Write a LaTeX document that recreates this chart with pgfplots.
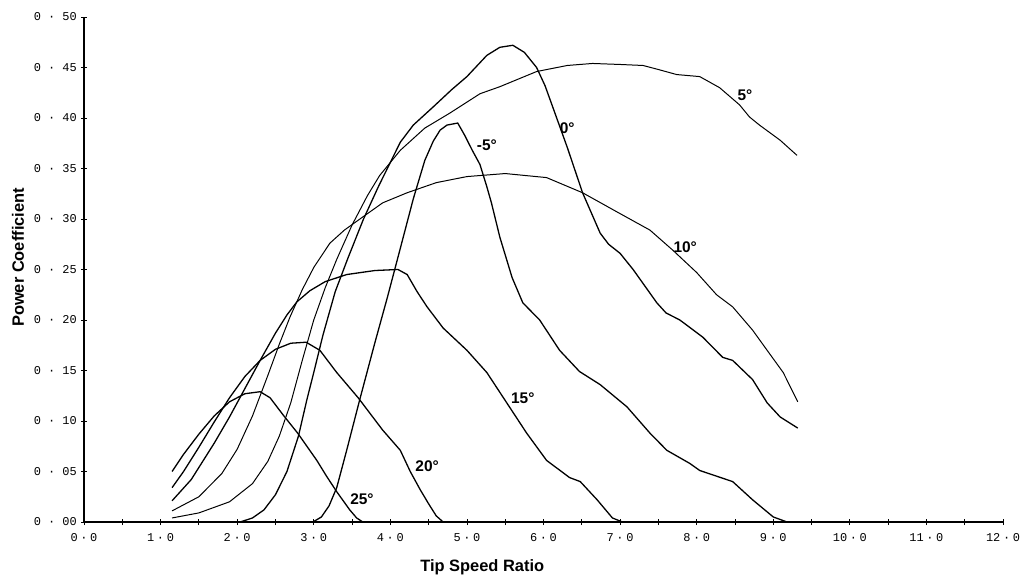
\documentclass[border=0pt]{standalone}
\usepackage{pgfplots}
\pgfplotsset{compat=1.18}
\usepackage{fontspec}
\setmainfont{Liberation Sans}
\setmonofont{Liberation Mono}

\pgfplotstableread{
x y
1.15 0.050
1.3 0.067
1.5 0.087
1.7 0.105
1.9 0.119
2.1 0.127
2.3 0.129
2.43 0.123
2.6 0.106
2.79 0.088
3.04 0.061
3.17 0.045
3.30 0.030
3.47 0.012
3.56 0.004
3.64 0.0
}\tabA
\pgfplotstableread{
x y
1.15 0.034
1.3 0.050
1.5 0.074
1.7 0.099
1.9 0.123
2.1 0.144
2.3 0.160
2.5 0.171
2.7 0.177
2.9 0.178
3.08 0.170
3.3 0.148
3.58 0.123
3.75 0.106
3.9 0.091
4.13 0.071
4.26 0.050
4.39 0.032
4.50 0.018
4.60 0.006
4.69 0.0
}\tabB
\pgfplotstableread{
x y
1.15 0.021
1.4 0.042
1.7 0.078
1.9 0.104
2.1 0.132
2.3 0.160
2.5 0.187
2.65 0.205
2.78 0.218
2.95 0.229
3.15 0.238
3.43 0.245
3.8 0.249
4.1 0.250
4.22 0.245
4.35 0.228
4.48 0.213
4.69 0.192
5.0 0.170
5.26 0.148
5.52 0.118
5.78 0.088
6.04 0.061
6.34 0.044
6.48 0.040
6.7 0.022
6.9 0.004
7.03 0.0
}\tabC
\pgfplotstableread{
x y
1.15 0.011
1.5 0.025
1.8 0.048
2.0 0.072
2.2 0.105
2.4 0.145
2.55 0.176
2.69 0.203
2.85 0.230
3.0 0.252
3.21 0.276
3.4 0.289
3.64 0.302
3.9 0.316
4.22 0.326
4.6 0.336
5.0 0.342
5.5 0.345
6.04 0.341
6.51 0.326
6.96 0.307
7.39 0.289
7.69 0.269
8.0 0.247
8.26 0.225
8.47 0.213
8.73 0.190
8.92 0.170
9.13 0.148
9.32 0.119
}\tabD
\pgfplotstableread{
x y
1.15 0.004
1.5 0.009
1.9 0.020
2.2 0.038
2.4 0.060
2.55 0.085
2.7 0.118
2.85 0.160
3.0 0.200
3.15 0.232
3.3 0.260
3.5 0.294
3.7 0.323
3.86 0.343
4.13 0.368
4.45 0.390
4.78 0.405
5.17 0.424
5.43 0.431
5.91 0.446
6.31 0.452
6.64 0.454
7.0 0.453
7.30 0.452
7.50 0.448
7.74 0.443
8.04 0.441
8.30 0.430
8.56 0.413
8.69 0.401
8.82 0.393
9.09 0.378
9.31 0.363
}\tabE
\pgfplotstableread{
x y
2.04 0.0
2.2 0.004
2.35 0.012
2.5 0.027
2.65 0.050
2.8 0.085
2.91 0.121
3.0 0.148
3.12 0.185
3.28 0.228
3.45 0.262
3.65 0.300
3.85 0.333
4.0 0.356
4.13 0.376
4.3 0.393
4.56 0.411
4.8 0.428
5.0 0.441
5.26 0.462
5.43 0.470
5.6 0.472
5.75 0.465
5.91 0.450
6.02 0.432
6.12 0.411
6.31 0.371
6.51 0.326
6.74 0.286
6.85 0.275
7.0 0.266
7.17 0.250
7.48 0.217
7.6 0.207
7.78 0.200
8.08 0.183
8.34 0.163
8.47 0.160
8.73 0.141
8.92 0.118
9.09 0.104
9.32 0.093
}\tabF
\pgfplotstableread{
x y
2.99 0.0
3.1 0.005
3.2 0.016
3.3 0.034
3.43 0.071
3.6 0.121
3.8 0.178
3.96 0.222
4.12 0.268
4.3 0.320
4.45 0.358
4.56 0.377
4.65 0.388
4.74 0.393
4.88 0.395
4.97 0.383
5.07 0.368
5.17 0.354
5.26 0.332
5.32 0.316
5.43 0.282
5.59 0.242
5.73 0.217
5.95 0.200
6.21 0.170
6.47 0.149
6.74 0.136
7.09 0.114
7.39 0.088
7.61 0.071
7.91 0.058
8.04 0.051
8.47 0.040
8.73 0.022
9.0 0.005
9.18 0.0
}\tabG

\begin{document}
\begin{tikzpicture}
\begin{axis}[
  at={(0,0)}, anchor=south west,
  scale only axis, width=919bp, height=505bp,
  xmin=0, xmax=12, ymin=0, ymax=0.5,
  axis x line*=bottom, axis y line*=left,
  axis line style={line width=1.6pt, black},
  xtick={0,1,2,3,4,5,6,7,8,9,10,11,12},
  minor xtick={0.5,1.5,2.5,3.5,4.5,5.5,6.5,7.5,8.5,9.5,10.5,11.5},
  xticklabels={0\:·\:0,1\:·\:0,2\:·\:0,3\:·\:0,4\:·\:0,5\:·\:0,6\:·\:0,7\:·\:0,8\:·\:0,9\:·\:0,10\:·\:0,11\:·\:0,12\:·\:0},
  ytick={0,0.05,0.10,0.15,0.20,0.25,0.30,0.35,0.40,0.45,0.50},
  yticklabels={0 · 00,0 · 05,0 · 10,0 · 15,0 · 20,0 · 25,0 · 30,0 · 35,0 · 40,0 · 45,0 · 50},
  tick align=center, major tick length=6bp, minor tick length=6bp,
  tick style={line width=0.8pt, black},
  xticklabel style={font=\ttfamily\fontsize{12}{12}\selectfont, anchor=base, inner sep=0pt, yshift=-16bp},
  yticklabel style={font=\ttfamily\fontsize{12}{12}\selectfont, anchor=east, inner sep=0pt, xshift=-4bp},
  clip=false,
]
\pgfplotsset{curve/.style={line width=1.3pt, black, solid, no markers}}
\addplot[curve] table {\tabA};
\addplot[curve] table {\tabB};
\addplot[curve] table {\tabC};
\addplot[curve, line width=1.0pt] table {\tabD};
\addplot[curve, line width=1.0pt] table {\tabE};
\addplot[curve] table {\tabF};
\addplot[curve] table {\tabG};

\begin{scope}[every node/.style={font=\bfseries\fontsize{15.5}{16}\selectfont, inner sep=0pt}]
\node at (axis cs:8.63,0.423) {5°};
\node at (axis cs:6.31,0.390) {0°};
\node at (axis cs:5.26,0.373) {-5°};
\node at (axis cs:7.85,0.272) {10°};
\node at (axis cs:5.73,0.123) {15°};
\node at (axis cs:4.48,0.055) {20°};
\node at (axis cs:3.63,0.023) {25°};
\end{scope}
\node[font=\bfseries\fontsize{16.5}{17}\selectfont, inner sep=0pt] at ([yshift=-45bp]axis cs:5.2,0) {Tip Speed Ratio};
\node[font=\bfseries\fontsize{16.5}{17}\selectfont, inner sep=0pt, rotate=90] at ([xshift=-66bp]axis cs:0,0.262) {Power Coefficient};
\end{axis}
\pgfresetboundingbox
\path[use as bounding box] (-84bp,-57bp) rectangle (938bp,522bp);
\end{tikzpicture}
\end{document}
